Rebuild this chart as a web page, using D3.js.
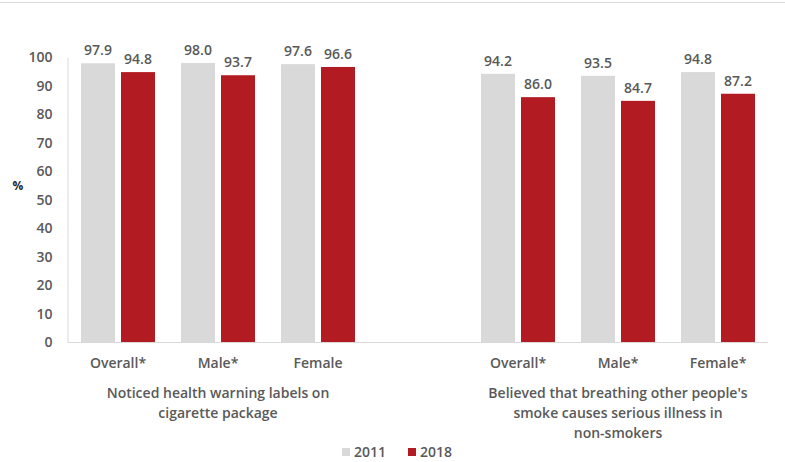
<!DOCTYPE html>
<html>
<head>
<meta charset="utf-8">
<script src="https://cdn.jsdelivr.net/npm/d3@7"></script>
<style>
  html, body { margin: 0; padding: 0; background: #fff; }
  svg { display: block; font-family: "Open Sans", Lato, sans-serif; }
</style>
</head>
<body>
<script>
// slot 3 is the empty gap between the two questions
const categories = ["Overall*", "Male*", "Female", "", "Overall*", "Male*", "Female*"];
const years = ["2011", "2018"];
const values2011 = [97.9, 98.0, 97.6, null, 94.2, 93.5, 94.8];
const values2018 = [94.8, 93.7, 96.6, null, 86.0, 84.7, 87.2];
const yTicks = [0, 10, 20, 30, 40, 50, 60, 70, 80, 90, 100];
const groupTitles = [
  ["Noticed health warning labels on", "cigarette package"],
  ["Believed that breathing other people's", "smoke causes serious illness in", "non-smokers"]
];
const groupSlots = [[0, 2], [4, 6]];

const W = 785, H = 462;
const colors = { "2011": "#d9d9d9", "2018": "#b31b22" };
const textColor = "#595959";
const font = "'Open Sans', Lato, sans-serif";

const svg = d3.select("body").append("svg")
  .attr("width", W)
  .attr("height", H);

// faint frame line at top
svg.append("line")
  .attr("x1", 0).attr("x2", W)
  .attr("y1", 2.5).attr("y2", 2.5)
  .attr("stroke", "#d9d9d9");

const x = d3.scaleBand().domain(d3.range(categories.length)).range([68, 768]);
const xInner = d3.scaleBand().domain(years).range([13, 87]).paddingInner(0.15);
const y = d3.scaleLinear().domain([0, 100]).range([342, 57.3]);

// y axis
const yAxis = svg.append("g")
  .attr("transform", "translate(67.5,0)")
  .call(d3.axisLeft(y).tickValues(yTicks).tickSize(0).tickPadding(15));
yAxis.select(".domain").attr("stroke", "#d9d9d9");
yAxis.selectAll("text")
  .attr("fill", textColor)
  .style("font-size", "14px")
  .style("font-weight", "600")
  .style("font-family", font);

svg.append("text")
  .attr("x", 18).attr("y", 190)
  .attr("text-anchor", "middle")
  .attr("fill", "#262626")
  .style("font-size", "12px")
  .style("font-weight", "bold")
  .text("%");

const rows = categories.map((c, i) => ({ i, c, vals: { "2011": values2011[i], "2018": values2018[i] } }))
  .filter(d => d.vals["2011"] != null);

const groups = svg.append("g").selectAll("g")
  .data(rows)
  .join("g")
  .attr("transform", d => `translate(${x(d.i)},0)`);

const bars = groups.selectAll("g")
  .data(d => years.map(k => ({ k, v: d.vals[k] })))
  .join("g");

bars.append("rect")
  .attr("x", d => xInner(d.k))
  .attr("width", xInner.bandwidth())
  .attr("y", d => y(d.v))
  .attr("height", d => y(0) - y(d.v))
  .attr("fill", d => colors[d.k]);

bars.append("text")
  .attr("x", d => xInner(d.k) + xInner.bandwidth() / 2)
  .attr("y", d => y(d.v) - 8)
  .attr("text-anchor", "middle")
  .attr("fill", textColor)
  .style("font-size", "14px")
  .style("font-weight", "600")
  .text(d => d.v.toFixed(1));

// baseline
svg.append("line")
  .attr("x1", 67.5).attr("x2", 768)
  .attr("y1", y(0) + 0.5).attr("y2", y(0) + 0.5)
  .attr("stroke", "#d9d9d9");

// category labels
svg.append("g").selectAll("text")
  .data(rows)
  .join("text")
  .attr("x", d => x(d.i) + x.bandwidth() / 2)
  .attr("y", 368)
  .attr("text-anchor", "middle")
  .attr("fill", textColor)
  .style("font-size", "14px")
  .style("font-weight", "600")
  .text(d => d.c);

// group titles
groupTitles.forEach((lines, g) => {
  const cx = (x(groupSlots[g][0]) + x(groupSlots[g][1]) + x.bandwidth()) / 2;
  svg.append("text")
    .attr("text-anchor", "middle")
    .attr("fill", textColor)
    .style("font-size", "14px")
    .style("font-weight", "600")
    .selectAll("tspan")
    .data(lines)
    .join("tspan")
    .attr("x", cx)
    .attr("y", (d, i) => 398 + i * 20)
    .text(d => d);
});

// legend
const legend = svg.append("g").selectAll("g")
  .data(years)
  .join("g")
  .attr("transform", (d, i) => `translate(${342 + i * 66},448)`);
legend.append("rect")
  .attr("width", 8).attr("height", 8)
  .attr("fill", d => colors[d]);
legend.append("text")
  .attr("x", 12).attr("y", 9)
  .attr("fill", textColor)
  .style("font-size", "14px")
  .style("font-weight", "600")
  .text(d => d);
</script>
</body>
</html>
